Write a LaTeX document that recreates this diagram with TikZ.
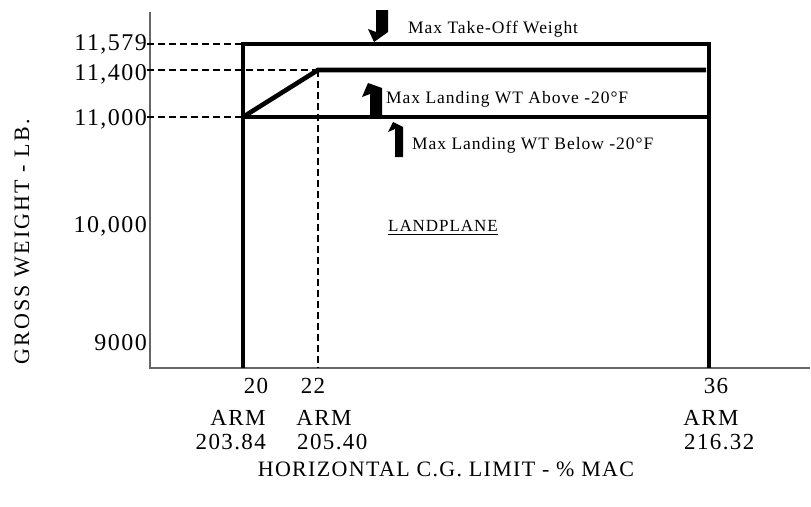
\documentclass[tikz,border=0pt]{standalone}
\usepackage{fontspec}
\setmainfont{Liberation Serif}
\newfontfamily\bigsp[LetterSpace=6]{Liberation Serif}
\newfontfamily\ttlsp[LetterSpace=10]{Liberation Serif}
\newfontfamily\hsp[LetterSpace=6]{Liberation Serif}
\newfontfamily\smsp[LetterSpace=5.5]{Liberation Serif}
\tikzset{
  axisline/.style={draw=black!60, line width=1.3pt},
  thickline/.style={draw=black, line width=4.6pt, line join=miter, line cap=butt},
  guide/.style={draw=black, line width=1.6pt, dash pattern=on 7pt off 4pt},
  ylab/.style={inner sep=0pt, anchor=base east, font=\bigsp\fontsize{24}{28}\selectfont},
  xlab/.style={inner sep=0pt, anchor=base, font=\bigsp\fontsize{23}{27}\selectfont},
  note/.style={inner sep=0pt, anchor=base west, font=\smsp\fontsize{17.5}{21}\selectfont},
  blockarrow/.style={fill=black, draw=none},
}
\begin{document}
\begin{tikzpicture}[x=1pt,y=-1pt]
\useasboundingbox (0,0) rectangle (811,506);
% axes
\coordinate (ytop) at (150,12);
\coordinate (orig) at (150,368);
\coordinate (xend) at (810,368);
\draw[axisline] (ytop) -- (orig) -- (xend);
% key points
\coordinate (bl) at (243,368);
\coordinate (tl) at (243,44);
\coordinate (tr) at (709,44);
\coordinate (br) at (709,368);
\coordinate (a) at (243,117);
\coordinate (b) at (318,70);
\coordinate (c) at (706,70);
\coordinate (d) at (709,117);
\coordinate (bb) at (318,368);
% y labels
\node[ylab] (y1) at (147,50) {11,579};
\node[ylab] (y2) at (147,80) {11,400};
\node[ylab] (y3) at (147,125) {11,000};
\node[ylab] (y4) at (147,232) {10,000};
\node[ylab] (y5) at (147,350) {9000};
% guides
\draw[guide] (y1.east |- tl) -- (tl);
\draw[guide] (y2.east |- b) -- (b);
\draw[guide] (y3.east |- a) -- (a);
\draw[guide] (b) -- (bb);
% envelope
\draw[thickline] (bl) -- (tl) -- (tr) -- (br);
\draw[thickline] (a) -- (d);
\draw[thickline] (a) -- (b) -- (c);
% arrows
\fill[blockarrow] (376,10) -- (388,10) -- (388,32) -- (374,42) -- (368,29) -- (376,32) -- cycle;
\fill[blockarrow] (370,115) -- (382,115) -- (382,88) -- (368,83) -- (362,97) -- (370,94) -- cycle;
\fill[blockarrow] (395,157) -- (403,157) -- (403,127) -- (393,122) -- (388,132) -- (395,129) -- cycle;
% notes
\node[note] (n1) at (408,33) {Max Take-Off Weight};
\node[note] (n2) at (386,103) {Max Landing WT Above -20°F};
\node[note] (n3) at (412,149) {Max Landing WT Below -20°F};
\node[note, font=\smsp\fontsize{17}{20}\selectfont] (lp) at (388,231) {LANDPLANE};
\draw[line width=1pt] ([yshift=-3pt]lp.south west) -- ([yshift=-3pt]lp.south east);
% x labels
\node[xlab] (x20) at (256,393) {20};
\node[xlab] (x22) at (313,393) {22};
\node[xlab] (x36) at (716,393) {36};
\node[xlab] (arm1) at (238,425) {ARM};
\node[xlab] (arm2) at (324,425) {ARM};
\node[xlab] (arm3) at (711,425) {ARM};
\node[xlab, anchor=base east] (v1) at (266,449) {203.84};
\node[xlab, anchor=base west] (v2) at (297,449) {205.40};
\node[xlab, anchor=base west] (v3) at (684,449) {216.32};
% axis titles
\node[inner sep=0pt, font=\hsp\fontsize{22}{25}\selectfont] (xt) at (446,469) {HORIZONTAL C.G. LIMIT - \% MAC};
\node[inner sep=0pt, rotate=90, font=\ttlsp\fontsize{22}{25}\selectfont] (yt) at (22,242) {GROSS WEIGHT - LB.};
\end{tikzpicture}
\end{document}
